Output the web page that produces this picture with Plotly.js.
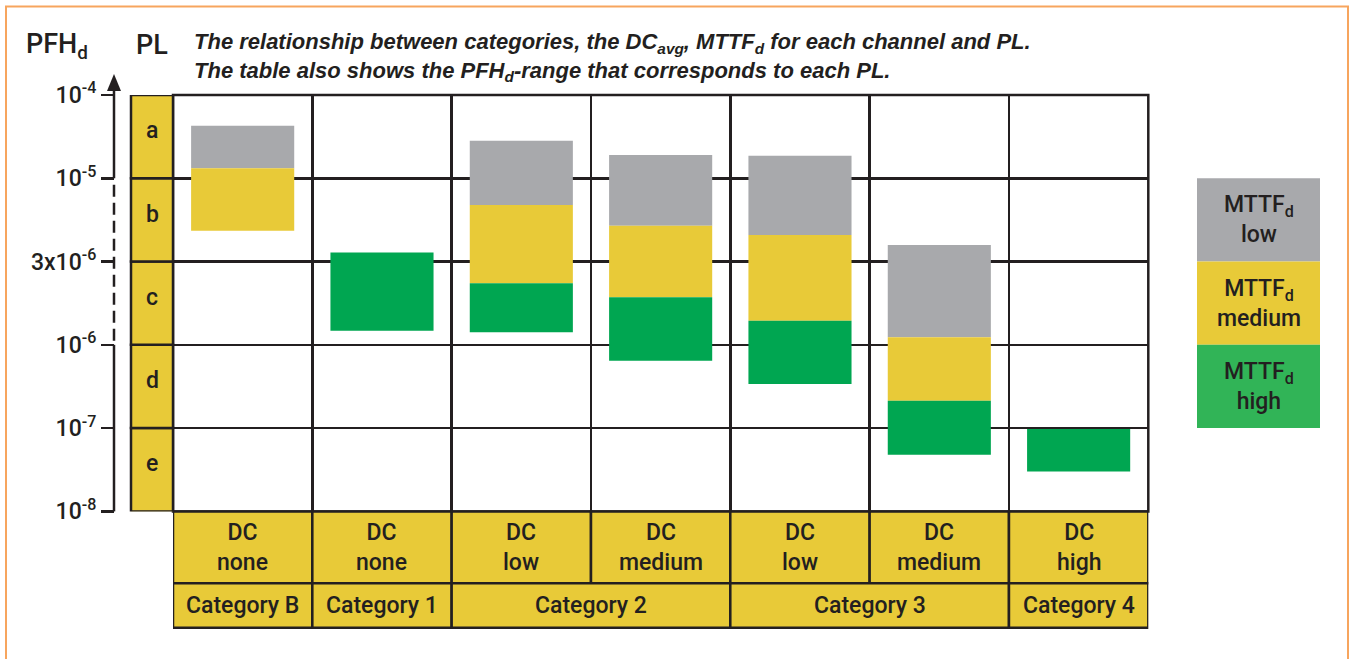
<!DOCTYPE html>
<html><head><meta charset="utf-8">
<script src="https://cdn.plot.ly/plotly-3.0.1.min.js"></script>
<style>html,body{margin:0;padding:0;background:#fff}</style>
</head><body><div id="chart" style="width:1349px;height:659px"></div>
<script>
// ---- data ----
const columns = [0, 1, 2, 3, 4, 5, 6];
const dcLabels = ["DC<br>none", "DC<br>none", "DC<br>low", "DC<br>medium", "DC<br>low", "DC<br>medium", "DC<br>high"];
const categoryNames = ["Category B", "Category 1", "Category 2", "Category 3", "Category 4"];
const categorySpans = [1, 1, 2, 2, 1];
const plLetters = ["e", "d", "c", "b", "a"];            // PL bands from bottom to top
const pfhTickVals = [0, 1, 2, 3, 4, 5];                   // PL band boundaries
const pfhTickText = ["10<sup>-8</sup>", "10<sup>-7</sup>", "10<sup>-6</sup>", "3x10<sup>-6</sup>", "10<sup>-5</sup>", "10<sup>-4</sup>"];
const legendLabels = ["MTTF<sub>d</sub><br>low", "MTTF<sub>d</sub><br>medium", "MTTF<sub>d</sub><br>high"];
// bar extents on the PL scale (0 = 10^-8, 1 = 10^-7, 2 = 10^-6, 3 = 3x10^-6, 4 = 10^-5, 5 = 10^-4)
const lowBottom  = [4.12, null, 3.68, 3.43, 3.32, 2.09, null];
const lowTop     = [4.63, null, 4.45, 4.28, 4.27, 3.20, null];
const medBottom  = [3.37, null, 2.74, 2.57, 2.29, 1.33, null];
const medTop     = [4.12, null, 3.68, 3.43, 3.32, 2.09, null];
const highBottom = [null, 2.17, 2.15, 1.81, 1.53, 0.68, 0.48];
const highTop    = [null, 3.11, 2.74, 2.57, 2.29, 1.33, 0.99];

// ---- style ----
const W = 1349, H = 659;
const DARK = '#231f20';
const GRAY = '#a8a9ac', YEL = '#e8ca38', GREEN = '#00a651', LGREEN = '#31b457';
const FONT = 'Roboto, Liberation Sans, Arial, sans-serif';
const TXT = {family: FONT, size: 23, color: DARK, weight: 500};
const px = v => v / W;
const py = v => 1 - v / H;
const xd = [px(173), px(1148.3)];
const yd = [py(511.4), py(95)];
const lvl = L => yd[0] + L / 5 * (yd[1] - yd[0]);

function heights(b, t) { return t.map((v, i) => (v == null || b[i] == null) ? null : v - b[i]); }
function barTrace(b, t, color) {
  return {type: 'bar', x: columns, base: b, y: heights(b, t), width: 0.74,
          marker: {color: color, line: {width: 0}}, hoverinfo: 'skip', showlegend: false};
}
const data = [
  barTrace(lowBottom, lowTop, GRAY),
  barTrace(medBottom, medTop, YEL),
  barTrace(highBottom, highTop, GREEN)
];

const shapes = [];
const annotations = [];
const line = {color: DARK, width: 2.5};
function label(o) {
  return Object.assign({showarrow: false, xanchor: 'center', yanchor: 'middle', font: TXT}, o);
}

// frame of plot
shapes.push({type: 'rect', xref: 'x domain', yref: 'y domain', x0: 0, x1: 1, y0: 0, y1: 1, line: line, layer: 'above'});

// PL column
plLetters.forEach((s, i) => {
  shapes.push({type: 'rect', xref: 'paper', yref: 'y', x0: px(131), x1: px(173), y0: i, y1: i + 1, fillcolor: YEL, line: line});
  annotations.push(label({xref: 'paper', yref: 'y', x: px(152), y: i + 0.57, text: s}));
});

// DC row
const rowTop = py(511.4), rowMid = py(583.3), rowBot = py(627.7);
columns.forEach((c, i) => {
  shapes.push({type: 'rect', xref: 'x', yref: 'paper', x0: c - 0.5, x1: c + 0.5, y0: rowMid, y1: rowTop, fillcolor: YEL, line: line});
  annotations.push(label({xref: 'x', yref: 'paper', x: c, y: (rowMid + rowTop) / 2, text: dcLabels[i]}));
});
// category row
let start = 0;
categoryNames.forEach((n, i) => {
  const x0 = start - 0.5, x1 = start + categorySpans[i] - 0.5;
  shapes.push({type: 'rect', xref: 'x', yref: 'paper', x0: x0, x1: x1, y0: rowBot, y1: rowMid, fillcolor: YEL, line: line});
  annotations.push(label({xref: 'x', yref: 'paper', x: (x0 + x1) / 2, y: (rowBot + rowMid) / 2, text: n}));
  start += categorySpans[i];
});

// legend boxes
[GRAY, YEL, LGREEN].forEach((c, i) => {
  shapes.push({type: 'rect', xref: 'paper', yref: 'y', x0: px(1197), x1: px(1320), y0: 3 - i, y1: 4 - i, fillcolor: c, line: {width: 0}});
  annotations.push(label({xref: 'paper', yref: 'y', x: px(1258.5), y: 3.5 - i, text: legendLabels[i]}));
});

// left axis line with dashed part and arrow
const ax = px(114);
shapes.push({type: 'line', xref: 'paper', yref: 'paper', x0: ax, x1: ax, y0: lvl(0), y1: lvl(2), line: line});
shapes.push({type: 'line', xref: 'paper', yref: 'paper', x0: ax, x1: ax, y0: lvl(2) + 4 / H, y1: lvl(4) - 4 / H, line: {color: DARK, width: 2.5, dash: '12px,6px'}});
shapes.push({type: 'line', xref: 'paper', yref: 'paper', x0: ax, x1: ax, y0: lvl(4), y1: py(88), line: line});
shapes.push({type: 'path', xref: 'paper', yref: 'paper',
  path: `M ${px(107)} ${py(91)} L ${px(121)} ${py(91)} L ${ax} ${py(74)} Z`, fillcolor: DARK, line: {width: 0}});

// orange frame
const OR = '#f7a55e';
shapes.push({type: 'path', xref: 'paper', yref: 'paper',
  path: `M ${px(6)} ${py(659)} L ${px(6)} ${py(6.5)} L ${px(1348)} ${py(6.5)} L ${px(1348)} ${py(659)}`,
  line: {color: OR, width: 2}});

// titles
annotations.push(label({xref: 'paper', yref: 'paper', x: px(24), y: py(46), xanchor: 'left',
  text: 'PFH<sub>d</sub>', font: {family: FONT, size: 27, color: DARK, weight: 500}}));
annotations.push(label({xref: 'paper', yref: 'paper', x: px(134), y: py(45), xanchor: 'left',
  text: 'PL', font: {family: FONT, size: 27, color: DARK, weight: 500}}));
annotations.push(label({xref: 'paper', yref: 'paper', x: px(192), y: py(57), xanchor: 'left', align: 'left',
  text: '<i>The relationship between categories, the DC<sub>avg</sub>, MTTF<sub>d</sub> for each channel and PL.</i><br><i>The table also shows the PFH<sub>d</sub>-range that corresponds to each PL.</i>',
  font: {family: 'Liberation Sans, Arial, sans-serif', size: 22, color: DARK, weight: 'bold'}}));

const layout = {
  width: W, height: H, autosize: false,
  margin: {l: 0, r: 0, t: 0, b: 0},
  paper_bgcolor: '#ffffff', plot_bgcolor: '#ffffff',
  barmode: 'overlay', showlegend: false,
  xaxis: {domain: xd, range: [-0.5, 6.5], tickvals: [-0.5, 0.5, 1.5, 2.5, 3.5, 4.5, 5.5, 6.5],
          showgrid: true, gridcolor: DARK, gridwidth: 2.5, showticklabels: false, ticks: '',
          zeroline: false, showline: false, fixedrange: true},
  yaxis: {domain: yd, range: [0, 5], tickvals: pfhTickVals, ticktext: pfhTickText,
          showgrid: true, gridcolor: DARK, gridwidth: 2.5, zeroline: false, showline: false,
          ticks: 'outside', ticklen: 13, tickwidth: 2.5, tickcolor: DARK,
          anchor: 'free', position: ax, fixedrange: true,
          tickfont: {family: FONT, size: 23, color: DARK, weight: 500}},
  shapes: shapes,
  annotations: annotations
};
Plotly.newPlot('chart', data, layout, {displayModeBar: false, staticPlot: true});
</script>
</body></html>
